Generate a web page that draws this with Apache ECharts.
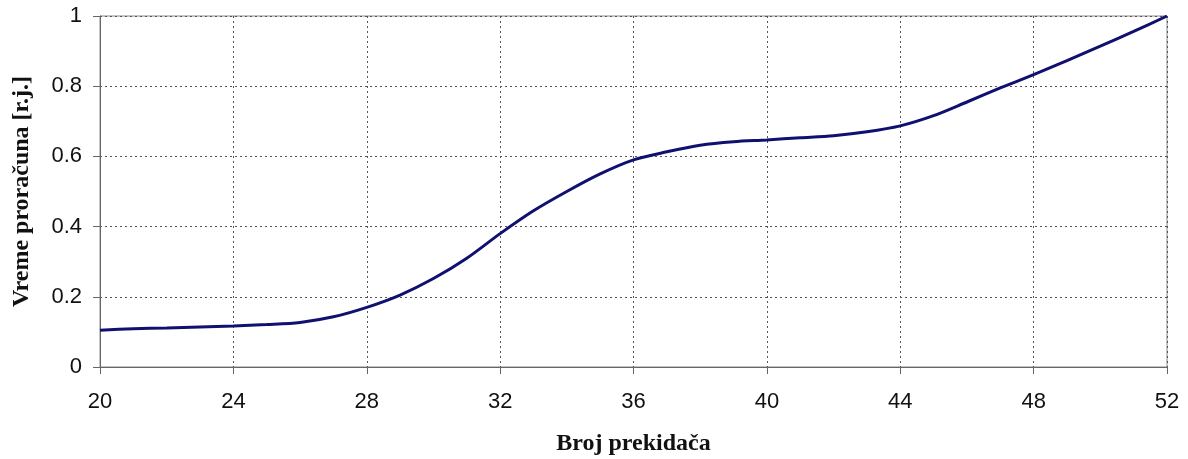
<!DOCTYPE html>
<html>
<head>
<meta charset="utf-8">
<script src="https://cdn.jsdelivr.net/npm/echarts@6/dist/echarts.min.js"></script>
<style>
  html, body { margin: 0; padding: 0; background: #fff; }
  #chart { width: 1188px; height: 459px; }
</style>
</head>
<body>
<div id="chart"></div>
<script>
// broj prekidaca (x) i relativno vreme proracuna (y)
const brojPrekidaca = [20, 21, 22, 23, 24, 25, 26, 27, 28, 29, 30, 31, 32, 33, 34, 35, 36, 37, 38, 39, 40, 41, 42, 43, 44, 45, 46, 47, 48, 49, 50, 51, 52]
const vremeProracuna = [0.105, 0.109, 0.111, 0.114, 0.117, 0.121, 0.127, 0.143, 0.17, 0.205, 0.252, 0.31, 0.38, 0.445, 0.5, 0.55, 0.59, 0.613, 0.632, 0.642, 0.647, 0.653, 0.659, 0.67, 0.687, 0.716, 0.755, 0.795, 0.833, 0.873, 0.914, 0.956, 1.0]
const xTicks = { min: 20, max: 52, interval: 4 }
const yTicks = { min: 0, max: 1, interval: 0.2 }

const chart = echarts.init(document.getElementById('chart'))

const option = {
  animation: false,
  grid: {
    left: 100,
    right: 21,
    top: 16,
    bottom: 92,
    outerBoundsMode: 'none',
    show: true,
    borderColor: '#888',
    borderWidth: 1
  },
  xAxis: {
    type: 'value',
    min: xTicks.min,
    max: xTicks.max,
    interval: xTicks.interval,
    name: 'Broj prekidača',
    nameLocation: 'middle',
    nameGap: 65,
    nameTextStyle: {
      fontFamily: 'Liberation Serif',
      fontWeight: 'bold',
      fontSize: 24,
      color: '#111'
    },
    axisLine: { lineStyle: { color: '#666', width: 1 } },
    axisTick: { show: true, length: 7, lineStyle: { color: '#666' } },
    axisLabel: {
      margin: 24,
      fontFamily: 'Liberation Sans',
      fontSize: 22,
      color: '#111'
    },
    splitLine: {
      show: true,
      lineStyle: { color: '#555', type: [2, 3], width: 1 }
    }
  },
  yAxis: {
    type: 'value',
    min: yTicks.min,
    max: yTicks.max,
    interval: yTicks.interval,
    name: 'Vreme proračuna [r.j.]',
    nameLocation: 'middle',
    nameGap: 66,
    nameTextStyle: {
      fontFamily: 'Liberation Serif',
      fontWeight: 'bold',
      fontSize: 24,
      color: '#111'
    },
    axisLine: { show: true, lineStyle: { color: '#666', width: 1 } },
    axisTick: { show: true, length: 7, lineStyle: { color: '#666' } },
    axisLabel: {
      margin: 18,
      fontFamily: 'Liberation Sans',
      fontSize: 22,
      color: '#111'
    },
    splitLine: {
      show: true,
      lineStyle: { color: '#555', type: [2, 3], width: 1 }
    }
  },
  series: [{
    type: 'line',
    data: brojPrekidaca.map((x, i) => [x, vremeProracuna[i]]),
    smooth: 0.3,
    showSymbol: false,
    lineStyle: { color: '#101070', width: 3 }
  }]
}

chart.setOption(option)
</script>
</body>
</html>
